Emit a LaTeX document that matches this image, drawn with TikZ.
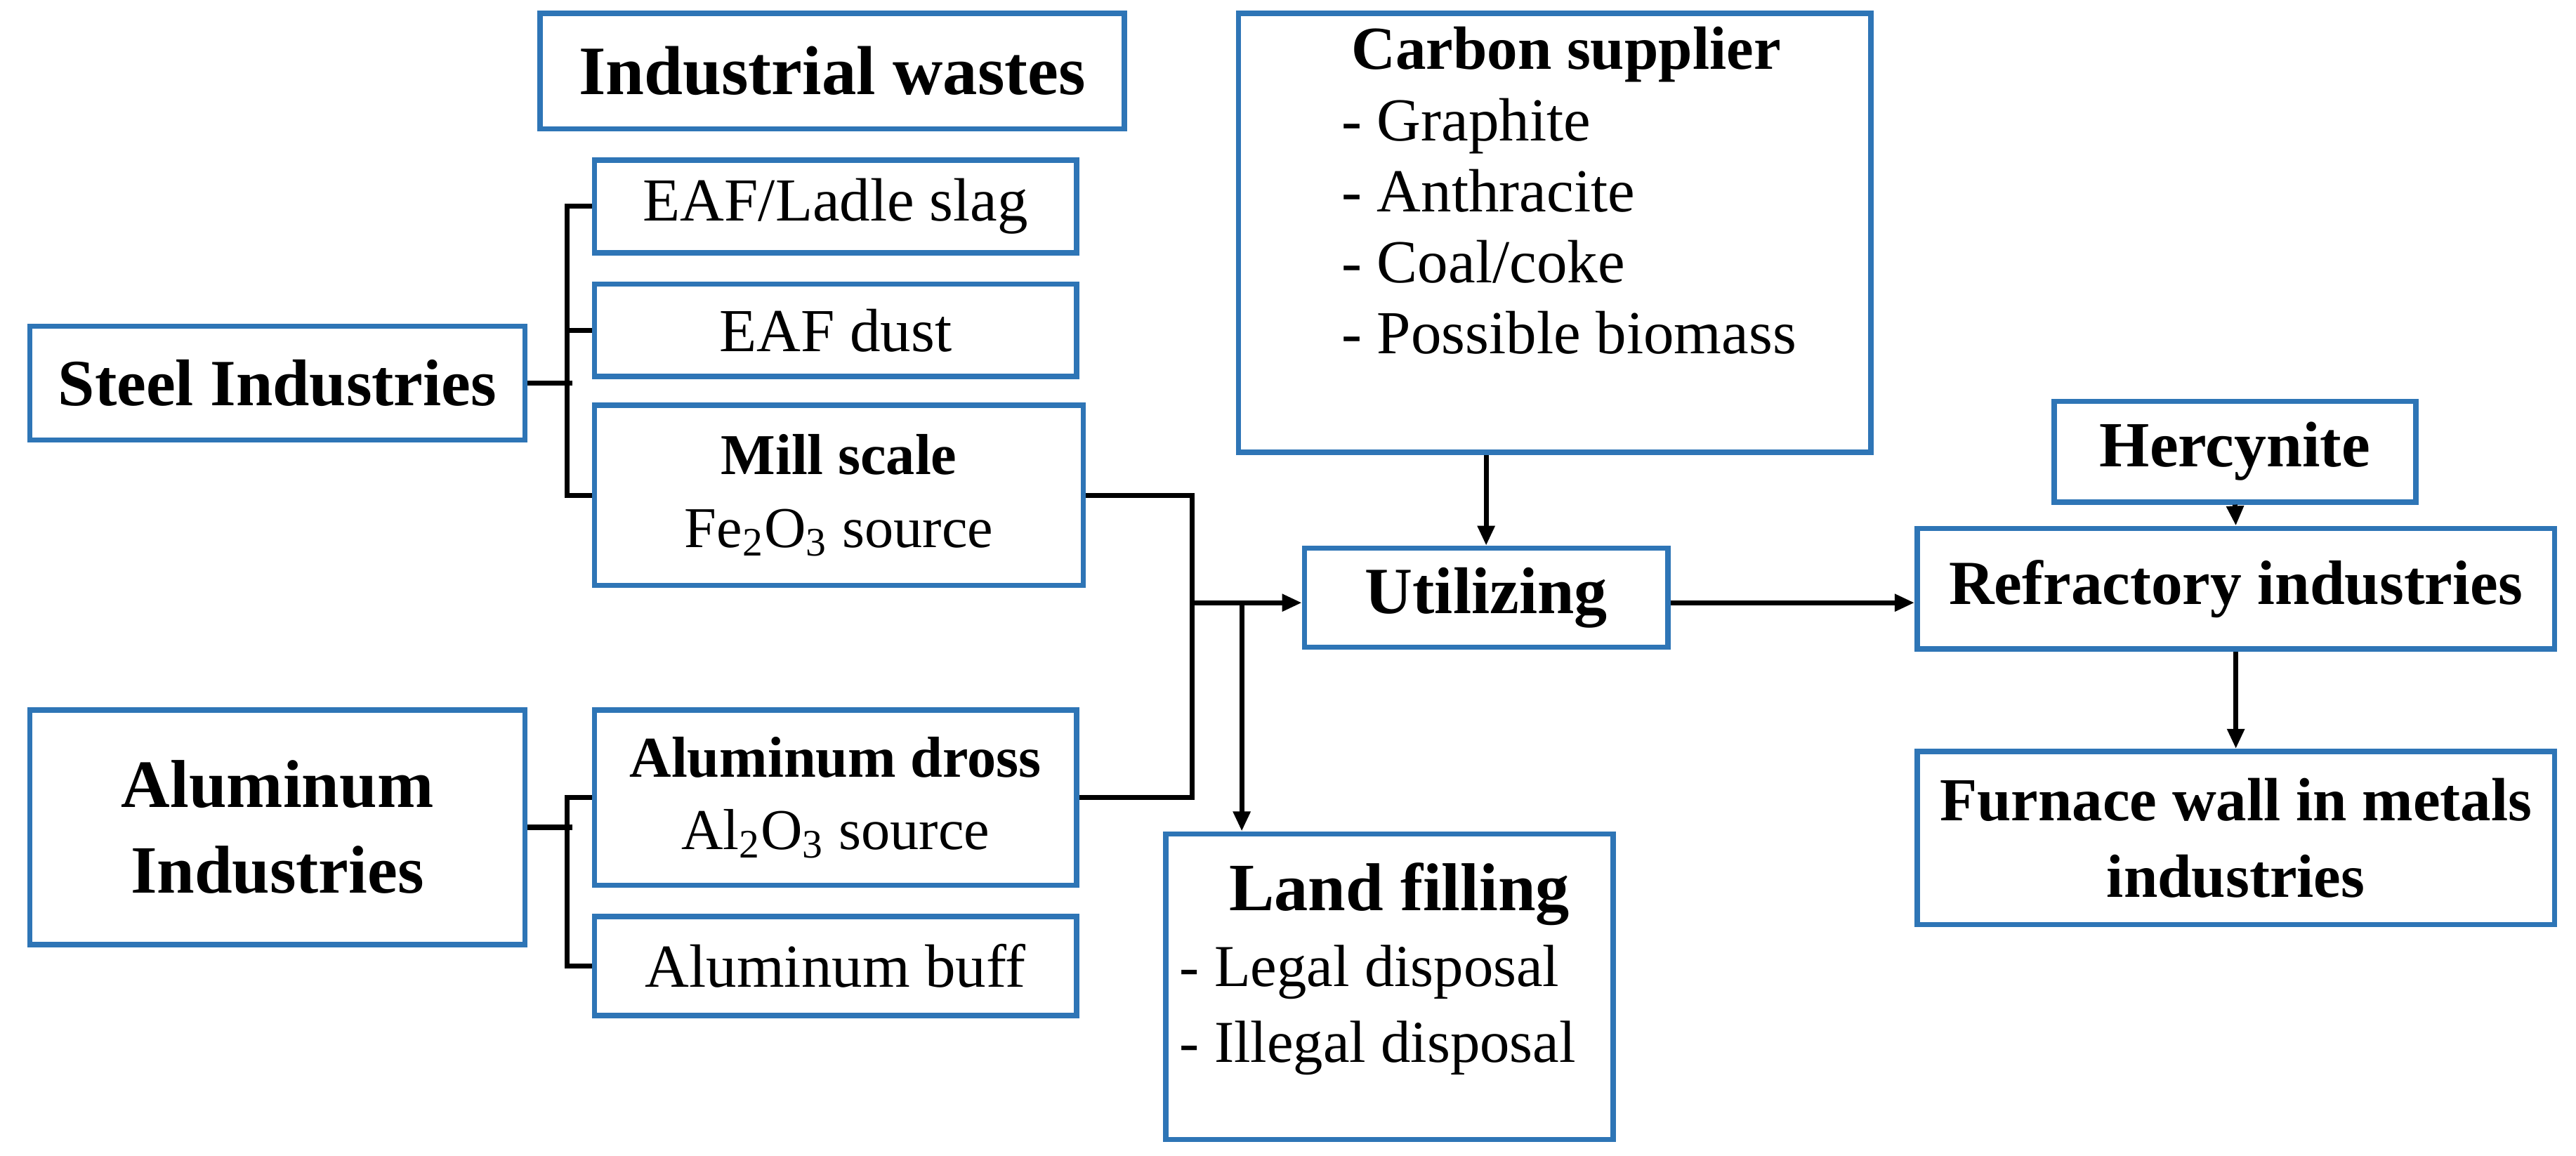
\documentclass[tikz,border=0pt]{standalone}
\usepackage{fontspec}
\setmainfont{Liberation Serif}
\usetikzlibrary{arrows.meta}
\definecolor{bx}{RGB}{46,117,182}
\begin{document}
\begin{tikzpicture}[x=0.5pt,y=-0.5pt,
 box/.style={draw=bx,line width=1.6pt,fill=white,align=center,inner sep=2pt},
 ln/.style={line width=1.5pt,black},
 ar/.style={ln,-{Triangle[length=6pt,width=5pt]}},
 sm/.style={font=\fontsize{18.5}{22}\selectfont}]
\useasboundingbox (0,0) rectangle (1560,700);
\node[box,minimum width=177pt,minimum height=35pt,font=\fontsize{21}{24}\selectfont\bfseries] (IW) at (504,43) {Industrial wastes};
\node[box,sm,minimum width=146pt,minimum height=28pt] (Ladle) at (506,125) {EAF/Ladle slag};
\node[box,sm,minimum width=146pt,minimum height=28pt] (Dust) at (506,200) {EAF dust};
\node[box,minimum width=150pt,minimum height=34.5pt,font=\fontsize{20}{23}\selectfont\bfseries] (Steel) at (168,232) {Steel Industries};
\node[box,minimum width=148pt,minimum height=54.5pt,font=\fontsize{17.5}{22}\selectfont] (Mill) at (508,300) {\textbf{Mill scale}\\Fe\textsubscript{2}O\textsubscript{3} source};
\node[box,minimum width=150pt,minimum height=71pt,font=\fontsize{20.5}{26}\selectfont\bfseries] (Al) at (168,501) {Aluminum\\Industries};
\node[box,minimum width=146pt,minimum height=53pt,font=\fontsize{17.5}{22}\selectfont] (Dross) at (506,483) {\textbf{Aluminum dross}\\Al\textsubscript{2}O\textsubscript{3} source};
\node[box,sm,minimum width=146pt,minimum height=30pt] (Buff) at (506,585) {Aluminum buff};
\node[box,minimum width=191.5pt,minimum height=133pt] (Carb) at (941.5,141) {};
\node[anchor=north west,inner sep=0pt,align=left,font=\fontsize{18.5}{21.5}\selectfont] (CarbT) at (812,16) {\hspace*{3pt}\textbf{Carbon supplier}\\- Graphite\\- Anthracite\\- Coal/coke\\- Possible biomass};
\node[box,minimum width=110pt,minimum height=30pt,font=\fontsize{20}{23}\selectfont\bfseries] (Util) at (900,362) {Utilizing};
\node[box,minimum width=135.5pt,minimum height=92.5pt] (Land) at (841.5,597.5) {};
\node[anchor=north west,inner sep=0pt,align=left,font=\fontsize{18}{23}\selectfont] (LandT) at (714,522) {\hspace*{15pt}{\fontsize{20.5}{23}\selectfont\bfseries Land filling}\\- Legal disposal\\- Illegal disposal};
\node[box,minimum width=109.5pt,minimum height=30.5pt,font=\fontsize{19.5}{22}\selectfont\bfseries] (Herc) at (1353.5,273.5) {Hercynite};
\node[box,minimum width=193pt,minimum height=36.5pt,font=\fontsize{19}{22}\selectfont\bfseries] (Ref) at (1354,356.5) {Refractory industries};
\node[box,minimum width=193pt,minimum height=52.5pt,font=\fontsize{18.5}{23}\selectfont\bfseries] (Furn) at (1354,507.5) {Furnace wall in metals\\industries};
\draw[ln] (Ladle.west) -- ++(-15,0) |- (Mill.west);
\draw[ln] (Dust.west) -- ++(-15,0);
\draw[ln] (Steel.east) -- ++(27,0);
\draw[ln] (Dross.west) -- ++(-15,0) |- (Buff.west);
\draw[ln] (Al.east) -- ++(27,0);
\coordinate (j) at (722,365);
\coordinate (k) at (752,365);
\draw[ln] (Mill.east) -| (j) |- (Dross.east);
\draw[ar] (j) -- (j -| Util.west);
\draw[ar] (k) -- (Land.north -| k);
\draw[ar] (Util.north |- Carb.south) -- (Util.north);
\draw[ar] (Util.east |- j) -- (j -| Ref.west);
\draw[ar] (Herc.south) -- (Ref.north);
\draw[ar] (Ref.south) -- (Furn.north);
\end{tikzpicture}
\end{document}
